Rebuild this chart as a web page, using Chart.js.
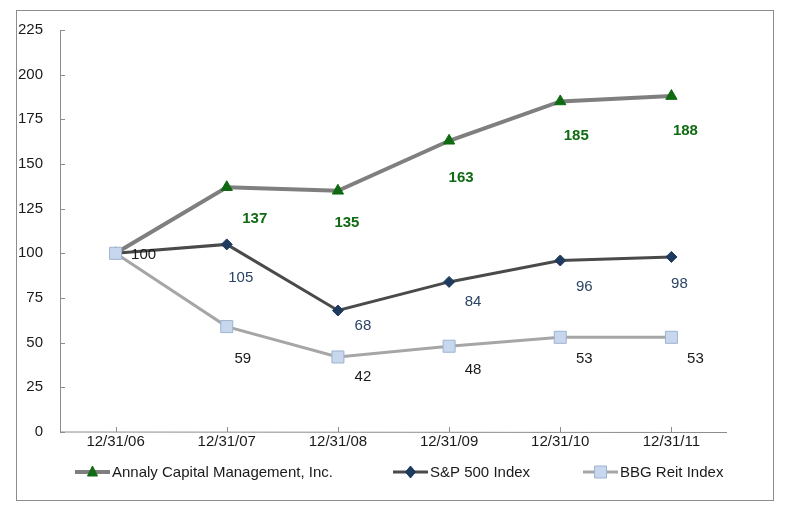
<!DOCTYPE html>
<html>
<head>
<meta charset="utf-8">
<script src="https://cdn.jsdelivr.net/npm/chart.js@4.4.1/dist/chart.umd.min.js"></script>
<style>
  html, body { margin: 0; padding: 0; background: #fff; }
  #wrap { width: 786px; height: 515px; }
</style>
</head>
<body>
<div id="wrap"><canvas id="grafico"></canvas></div>
<script>
const fechas = ['12/31/06', '12/31/07', '12/31/08', '12/31/09', '12/31/10', '12/31/11'];
const annaly = [100, 137, 135, 163, 185, 188];
const sp500 = [100, 105, 68, 84, 96, 98];
const bbgReit = [100, 59, 42, 48, 53, 53];
const nombres = ['Annaly Capital Management, Inc.', 'S&P 500 Index', 'BBG Reit Index'];

// desplazamiento de cada etiqueta respecto a su punto (solo estilo)
const offsAnnaly = [null, [28, 32], [9, 32], [12, 37], [16, 34], [14, 35]];
const offsSp = [null, [14, 33], [25, 15], [24, 20], [24, 26], [8, 27]];
const offsBbg = [[28, 2], [16, 32], [25, 20], [24, 24], [24, 22], [24, 22]];

const fuente = "'Liberation Sans', Arial, sans-serif";

const etiquetas = {
    id: 'etiquetas',
    afterDatasetsDraw(chart) {
        const ctx = chart.ctx;
        const conf = [
            {i: 0, offs: offsAnnaly, color: '#0f6a12', font: 'bold 15px ' + fuente},
            {i: 1, offs: offsSp, color: '#2b4466', font: '15px ' + fuente},
            {i: 2, offs: offsBbg, color: '#1a1a1a', font: '15px ' + fuente}
        ];
        ctx.save();
        ctx.textAlign = 'center';
        ctx.textBaseline = 'middle';
        for (let c of conf) {
            const meta = chart.getDatasetMeta(c.i);
            const datos = chart.data.datasets[c.i].data;
            meta.data.forEach((p, k) => {
                const o = c.offs[k];
                if (!o) return;
                ctx.fillStyle = c.color;
                ctx.font = c.font;
                ctx.fillText(datos[k], p.x + o[0], p.y + o[1]);
            });
        }
        ctx.restore();
    }
};

const marco = {
    id: 'marco',
    beforeDraw(chart) {
        const ctx = chart.ctx;
        ctx.save();
        ctx.fillStyle = '#fff';
        ctx.fillRect(0, 0, chart.width, chart.height);
        ctx.strokeStyle = '#8c8c8c';
        ctx.lineWidth = 1;
        ctx.strokeRect(16.5, 10.5, 757, 490);
        ctx.restore();
    },
    afterDraw(chart) {
        const ctx = chart.ctx;
        const x = chart.scales.x, y = chart.scales.y;
        const a = chart.chartArea;
        ctx.save();
        ctx.strokeStyle = '#8c8c8c';
        ctx.lineWidth = 1;
        ctx.beginPath();
        ctx.moveTo(a.left + 0.5, a.top);
        ctx.lineTo(a.left + 0.5, a.bottom);
        ctx.lineTo(a.right, a.bottom + 0.5);
        y.ticks.forEach((t, k) => {
            const py = Math.round(y.getPixelForTick(k)) + 0.5;
            ctx.moveTo(a.left, py);
            ctx.lineTo(a.left + 5, py);
        });
        x.ticks.forEach((t, k) => {
            const px = Math.round(x.getPixelForTick(k)) + 0.5;
            ctx.moveTo(px, a.bottom);
            ctx.lineTo(px, a.bottom - 5);
        });
        ctx.stroke();

        // leyenda
        const posX = [75, 393, 583];
        const ly = 472;
        chart.data.datasets.forEach((ds, k) => {
            const x0 = posX[k];
            ctx.strokeStyle = ds.borderColor;
            ctx.lineWidth = ds.borderWidth;
            ctx.beginPath();
            ctx.moveTo(x0, ly);
            ctx.lineTo(x0 + 35, ly);
            ctx.stroke();
            const cx = x0 + 17.5;
            ctx.fillStyle = ds.pointBackgroundColor;
            ctx.strokeStyle = ds.pointBorderColor;
            ctx.lineWidth = 1;
            ctx.beginPath();
            if (ds.pointStyle === 'triangle') {
                ctx.moveTo(cx, ly - 6); ctx.lineTo(cx + 5, ly + 4); ctx.lineTo(cx - 5, ly + 4);
            } else if (ds.pointStyle === 'rectRot') {
                ctx.moveTo(cx, ly - 6); ctx.lineTo(cx + 5, ly); ctx.lineTo(cx, ly + 6); ctx.lineTo(cx - 5, ly);
            } else {
                ctx.rect(cx - 6, ly - 6, 12, 12);
            }
            ctx.closePath();
            ctx.fill();
            ctx.stroke();
            ctx.fillStyle = '#1a1a1a';
            ctx.font = '15px ' + fuente;
            ctx.textAlign = 'left';
            ctx.textBaseline = 'middle';
            ctx.fillText(ds.label, x0 + 37, ly + 1);
        });
        ctx.restore();
    }
};

const data = {
    labels: fechas,
    datasets: [
        {
            label: nombres[0], data: annaly, order: 3,
            borderColor: '#7f7f7f', borderWidth: 4,
            pointStyle: 'triangle', pointRadius: 6.5,
            pointBackgroundColor: '#0f6a12', pointBorderColor: '#0f6a12', pointBorderWidth: 1
        },
        {
            label: nombres[1], data: sp500, order: 2,
            borderColor: '#4a4a4a', borderWidth: 3,
            pointStyle: 'rectRot', pointRadius: 5.5,
            pointBackgroundColor: '#1f3a5f', pointBorderColor: '#1f3a5f', pointBorderWidth: 1
        },
        {
            label: nombres[2], data: bbgReit, order: 1,
            borderColor: '#a6a6a6', borderWidth: 3,
            pointStyle: 'rect', pointRadius: 8.5,
            pointBackgroundColor: '#c6d7ee', pointBorderColor: '#9fb3cf', pointBorderWidth: 1
        }
    ]
};

const config = {
    type: 'line',
    data,
    options: {
        responsive: true,
        maintainAspectRatio: false,
        animation: false,
        devicePixelRatio: 1,
        layout: { padding: { left: 0, right: 59, top: 30, bottom: 0 } },
        elements: { line: { tension: 0 } },
        plugins: { legend: { display: false }, tooltip: { enabled: false } },
        scales: {
            x: {
                offset: true,
                border: { display: false },
                grid: { display: false, drawTicks: false },
                ticks: { color: '#1a1a1a', font: { family: fuente, size: 15 }, padding: 1, maxRotation: 0 },
                afterFit: (s) => { s.height = 83; }
            },
            y: {
                min: 0, max: 225,
                border: { display: false },
                grid: { display: false, drawTicks: false },
                ticks: { stepSize: 25, color: '#1a1a1a', font: { family: fuente, size: 15 }, padding: 17 },
                afterFit: (s) => { s.width = 60; }
            }
        }
    },
    plugins: [marco, etiquetas]
};

const grafico = new Chart(document.getElementById('grafico'), config);
</script>
</body>
</html>
